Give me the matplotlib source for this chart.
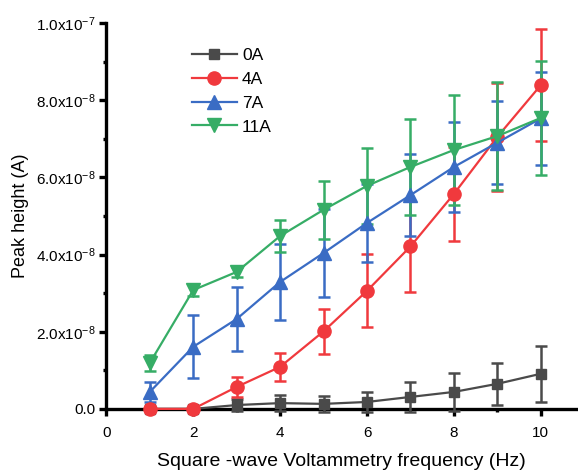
import matplotlib
matplotlib.use("Agg")
import matplotlib.pyplot as plt
from matplotlib.ticker import FuncFormatter, MultipleLocator
from matplotlib.lines import Line2D
import numpy as np

plt.rcParams['font.family'] = ['Liberation Sans', 'DejaVu Sans']
plt.rcParams['mathtext.fontset'] = 'custom'
plt.rcParams['mathtext.rm'] = 'Liberation Sans'

# Peak heights and standard deviations, in units of 1e-8 A
freq = [1, 2, 3, 4, 5, 6, 7, 8, 9, 10]
series_labels = ["0A", "4A", "7A", "11A"]

peak_0A = [0.0, 0.0, 0.10, 0.15, 0.13, 0.18, 0.31, 0.44, 0.65, 0.91]
err_0A = [0.0, 0.0, 0.15, 0.20, 0.20, 0.25, 0.40, 0.50, 0.55, 0.72]

peak_4A = [0.0, 0.0, 0.57, 1.09, 2.01, 3.06, 4.21, 5.57, 7.05, 8.39]
err_4A = [0.0, 0.0, 0.25, 0.37, 0.58, 0.95, 1.17, 1.22, 1.40, 1.46]

peak_7A = [0.44, 1.61, 2.33, 3.29, 4.04, 4.82, 5.54, 6.27, 6.90, 7.53]
err_7A = [0.27, 0.82, 0.84, 0.98, 1.15, 1.01, 1.06, 1.17, 1.07, 1.20]

peak_11A = [1.19, 3.08, 3.55, 4.48, 5.16, 5.78, 6.27, 6.71, 7.07, 7.54]
err_11A = [0.20, 0.15, 0.12, 0.42, 0.75, 0.98, 1.24, 1.42, 1.40, 1.48]

UNIT = 1e-8

colors = ["#4a4a4a", "#f0393d", "#3a6cc4", "#36ad66"]
markers = ["s", "o", "^", "v"]
msizes = [7.5, 9.5, 9.5, 9.5]

fig = plt.figure(figsize=(5.78, 4.70), dpi=100)
ax = fig.add_axes([0.184, 0.130, 0.814, 0.821])

all_peaks = [peak_0A, peak_4A, peak_7A, peak_11A]
all_errs = [err_0A, err_4A, err_7A, err_11A]
handles = []
for lab, p, e, c, m, ms in zip(series_labels, all_peaks, all_errs, colors, markers, msizes):
    eb = ax.errorbar(freq, p, yerr=e,
                     color=c, marker=m, ms=ms, lw=1.6, elinewidth=1.8,
                     capsize=4.3, capthick=1.8, clip_on=False, zorder=3)
    for art in eb.lines[1] + eb.lines[2]:
        art.set_clip_on(False)
    handles.append(Line2D([], [], color=c, marker=m, ms=ms, lw=1.6))

ax.set_xlim(0, 10.83)
ax.set_ylim(0, 10)

ax.xaxis.set_major_locator(MultipleLocator(2))
ax.xaxis.set_minor_locator(MultipleLocator(1))
ax.yaxis.set_major_locator(MultipleLocator(2))
ax.yaxis.set_minor_locator(MultipleLocator(1))


def sci_fmt(v, pos):
    val = v * UNIT
    if abs(val) < 1e-15:
        return "0.0"
    exp = int(np.floor(np.log10(abs(val)) + 1e-9))
    mant = val / 10 ** exp
    return r"$\mathregular{%.1fx10^{%d}}$" % (mant, exp)


ax.yaxis.set_major_formatter(FuncFormatter(sci_fmt))

ax.spines["top"].set_visible(False)
ax.spines["right"].set_visible(False)
for s in ["left", "bottom"]:
    ax.spines[s].set_linewidth(2.4)
    ax.spines[s].set_edgecolor("#000000")
    ax.spines[s].set_capstyle("projecting")

ax.tick_params(axis="both", which="major", direction="out", length=5, width=2.4,
               color="#000000", labelsize=11, pad=3)
ax.tick_params(axis="x", which="major", pad=7)
ax.tick_params(axis="both", which="minor", direction="out", length=2.5, width=2.4,
               color="#000000")

ax.set_xlabel("Square -wave Voltammetry frequency (Hz)", fontsize=14, labelpad=10)
ax.set_ylabel("Peak height (A)", fontsize=13, labelpad=5)

leg = ax.legend(handles=handles, labels=series_labels, loc="upper left",
                bbox_to_anchor=(0.163, 0.958), frameon=False, fontsize=12.5,
                handlelength=2.6, handletextpad=0.3, labelspacing=0.5,
                borderpad=0)

fig.savefig("out.png", dpi=100, facecolor="white")
